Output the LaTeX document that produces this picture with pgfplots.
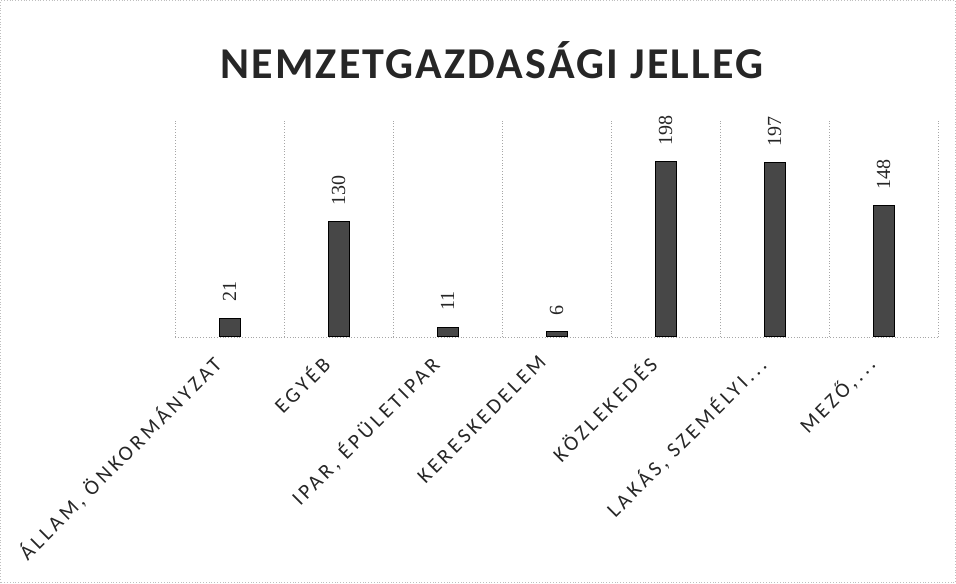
\documentclass[border=0pt]{standalone}
\usepackage{fontspec}
\usepackage{pgfplots}
\pgfplotsset{compat=1.18}
\setmainfont{Carlito}
\newfontfamily\tickfont[LetterSpace=16.5]{Carlito}
\newfontfamily\titlefont[LetterSpace=5]{Carlito}
\newfontfamily\numfont{Liberation Serif}
\begin{document}
\begin{tikzpicture}
\path[use as bounding box] (0,0) rectangle (478pt,291.5pt);
\draw[densely dotted, gray!50] (0.3pt,0.3pt) rectangle (477.7pt,291.2pt);
\node[font=\titlefont\fontsize{22}{26}\selectfont\bfseries, text=black!85] at (246pt,261.5pt) {NEMZETGAZDASÁGI JELLEG};
\begin{axis}[
  at={(87.5pt,123pt)}, anchor=south west,
  scale only axis, width=381.5pt, height=108.5pt,
  ybar, bar width=10.5pt,
  xmin=-0.5, xmax=6.5, ymin=0, ymax=245,
  xtick=data,
  xticklabels={{ÁLLAM, ÖNKORMÁNYZAT}, {EGYÉB}, {IPAR, ÉPÜLETIPAR}, {KERESKEDELEM}, {KÖZLEKEDÉS}, {LAKÁS, SZEMÉLYI{.}{.}{.}}, {MEZŐ,{.}{.}{.}}},
  xticklabel style={rotate=45, anchor=north east, inner sep=0pt, font=\tickfont\fontsize{10.5}{12}\selectfont, text=black!85, yshift=1pt, xshift=-12.5pt},
  major tick length=0pt, minor tick length=0pt,
  ytick=\empty,
  minor xtick={-0.5,0.5,1.5,2.5,3.5,4.5,5.5,6.5},
  minor x grid style={densely dotted, gray!70},
  xminorgrids=true,
  extra y ticks={0}, extra y tick labels={},
  extra y tick style={grid=major, major grid style={densely dotted, gray!70}},
  axis line style={draw=none},
  nodes near coords={\numfont\pgfmathprintnumber[assume math mode=true]{\pgfplotspointmeta}},
  every node near coord/.append style={font=\numfont\fontsize{10}{12}\selectfont, text=black!85, yshift=8pt, rotate=90, anchor=west, inner sep=0pt},
]
\addplot[fill=black!72, draw=black, line width=0.5pt] coordinates {(0,21) (1,130) (2,11) (3,6) (4,198) (5,197) (6,148)};
\end{axis}
\end{tikzpicture}
\end{document}
